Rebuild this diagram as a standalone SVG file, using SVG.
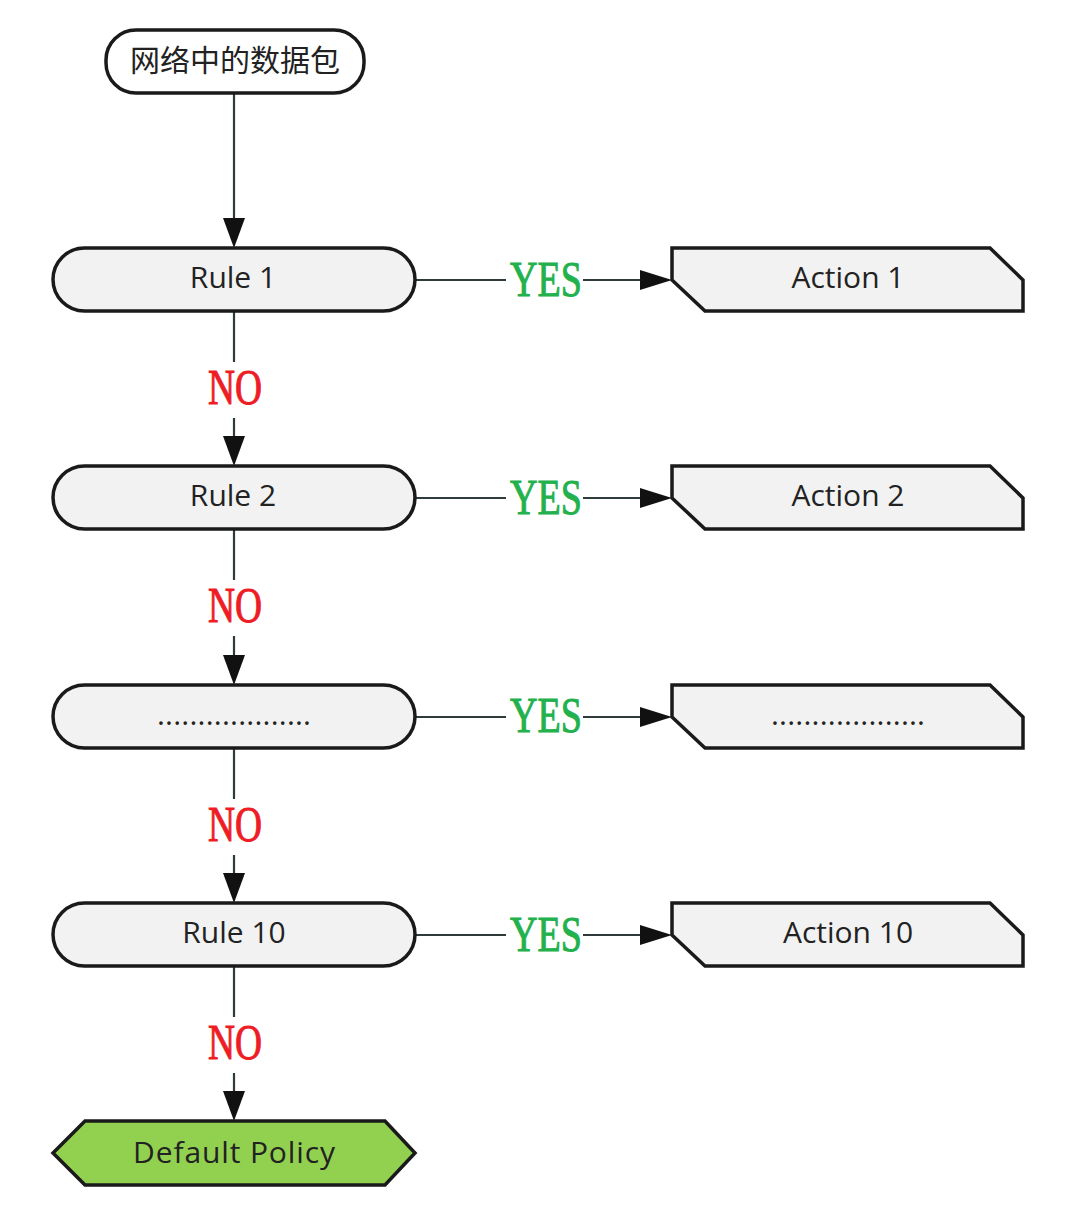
<svg xmlns="http://www.w3.org/2000/svg" width="1080" height="1227" viewBox="0 0 1080 1227">
<style>
.node{fill:#f2f2f2;stroke:#1a1a1a;stroke-width:3.5}
.start{fill:#ffffff;stroke:#1a1a1a;stroke-width:3.5}
.def{fill:#92d050;stroke:#1a1a1a;stroke-width:3.5}
.t{font-family:"Open Sans","Noto Sans",sans-serif;font-size:30px;fill:#222;text-anchor:middle}
.cjk{font-family:"Noto Sans CJK SC",sans-serif;font-size:30px;fill:#222;text-anchor:middle}
.ln{stroke:#2f3a3a;stroke-width:2.2;fill:none}
.ah{fill:#111}
.no{font-family:"Liberation Serif",serif;font-size:50px;fill:#ee1c24;stroke:#ee1c24;stroke-width:1}
.yes{font-family:"Liberation Serif",serif;font-size:50px;fill:#22b14c;stroke:#22b14c;stroke-width:1}
</style>
<rect width="1080" height="1227" fill="#ffffff"/>
<g id="connectors">
  <line class="ln" x1="234" y1="93" x2="234" y2="220"/>
  <polygon class="ah" points="223,218 245,218 234,248"/>
  <g>
    <line class="ln" x1="234" y1="311" x2="234" y2="362"/>
    <line class="ln" x1="234" y1="418" x2="234" y2="438"/>
    <polygon class="ah" points="223,436 245,436 234,466"/>
    <text class="no" x="208" y="404" textLength="54" lengthAdjust="spacingAndGlyphs">NO</text>
  </g>
  <g>
    <line class="ln" x1="234" y1="529" x2="234" y2="580"/>
    <line class="ln" x1="234" y1="636" x2="234" y2="657"/>
    <polygon class="ah" points="223,655 245,655 234,685"/>
    <text class="no" x="208" y="622" textLength="54" lengthAdjust="spacingAndGlyphs">NO</text>
  </g>
  <g>
    <line class="ln" x1="234" y1="748" x2="234" y2="799"/>
    <line class="ln" x1="234" y1="855" x2="234" y2="875"/>
    <polygon class="ah" points="223,873 245,873 234,903"/>
    <text class="no" x="208" y="841" textLength="54" lengthAdjust="spacingAndGlyphs">NO</text>
  </g>
  <g>
    <line class="ln" x1="234" y1="966" x2="234" y2="1017"/>
    <line class="ln" x1="234" y1="1073" x2="234" y2="1093"/>
    <polygon class="ah" points="223,1091 245,1091 234,1121"/>
    <text class="no" x="208" y="1059" textLength="54" lengthAdjust="spacingAndGlyphs">NO</text>
  </g>
  <g>
    <line class="ln" x1="415" y1="280" x2="506" y2="280"/>
    <line class="ln" x1="583" y1="280" x2="642" y2="280"/>
    <polygon class="ah" points="640,270 640,290 672,280"/>
    <text class="yes" x="510" y="296" textLength="72" lengthAdjust="spacingAndGlyphs">YES</text>
  </g>
  <g>
    <line class="ln" x1="415" y1="498" x2="506" y2="498"/>
    <line class="ln" x1="583" y1="498" x2="642" y2="498"/>
    <polygon class="ah" points="640,488 640,508 672,498"/>
    <text class="yes" x="510" y="514" textLength="72" lengthAdjust="spacingAndGlyphs">YES</text>
  </g>
  <g>
    <line class="ln" x1="415" y1="717" x2="506" y2="717"/>
    <line class="ln" x1="583" y1="717" x2="642" y2="717"/>
    <polygon class="ah" points="640,707 640,727 672,717"/>
    <text class="yes" x="510" y="732" textLength="72" lengthAdjust="spacingAndGlyphs">YES</text>
  </g>
  <g>
    <line class="ln" x1="415" y1="935" x2="506" y2="935"/>
    <line class="ln" x1="583" y1="935" x2="642" y2="935"/>
    <polygon class="ah" points="640,925 640,945 672,935"/>
    <text class="yes" x="510" y="951" textLength="72" lengthAdjust="spacingAndGlyphs">YES</text>
  </g>
</g>
<g id="start">
  <rect class="start" x="106" y="30" width="258" height="63" rx="30"/>
  <text class="cjk" x="235" y="71">网络中的数据包</text>
</g>
<g id="rule1">
  <rect class="node" x="53" y="248" width="362" height="63" rx="31.5"/>
  <text class="t" x="233" y="288">Rule 1</text>
</g>
<g id="rule2">
  <rect class="node" x="53" y="466" width="362" height="63" rx="31.5"/>
  <text class="t" x="233" y="506">Rule 2</text>
</g>
<g id="rule3">
  <rect class="node" x="53" y="685" width="362" height="63" rx="31.5"/>
  <text class="t" x="234" y="725" textLength="154" lengthAdjust="spacing">...................</text>
</g>
<g id="rule10">
  <rect class="node" x="53" y="903" width="362" height="63" rx="31.5"/>
  <text class="t" x="234" y="943">Rule 10</text>
</g>
<g id="action1">
  <polygon class="node" points="672,248 990,248 1023,280 1023,311 705,311 672,280"/>
  <text class="t" x="848" y="288">Action 1</text>
</g>
<g id="action2">
  <polygon class="node" points="672,466 990,466 1023,498 1023,529 705,529 672,498"/>
  <text class="t" x="848" y="506">Action 2</text>
</g>
<g id="action3">
  <polygon class="node" points="672,685 990,685 1023,717 1023,748 705,748 672,717"/>
  <text class="t" x="848" y="725" textLength="154" lengthAdjust="spacing">...................</text>
</g>
<g id="action10">
  <polygon class="node" points="672,903 990,903 1023,935 1023,966 705,966 672,935"/>
  <text class="t" x="848" y="943">Action 10</text>
</g>
<g id="default">
  <polygon class="def" points="53,1153 85,1121 385,1121 415,1153 385,1185 85,1185"/>
  <text class="t" x="234" y="1163" textLength="202" lengthAdjust="spacing">Default Policy</text>
</g>
</svg>
